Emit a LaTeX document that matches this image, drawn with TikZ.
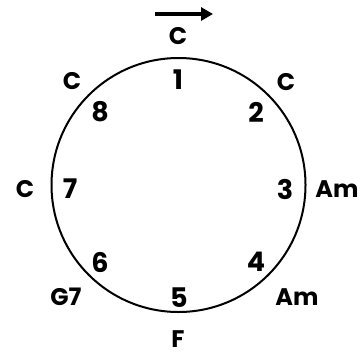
\documentclass[tikz,border=0pt]{standalone}
\usepackage{fontspec}
\setmainfont{Poppins}
\usetikzlibrary{arrows.meta}
\begin{document}
\begin{tikzpicture}[x=1pt,y=-1pt,
  chord/.style={font=\bfseries\fontsize{24}{24}\selectfont, inner sep=0pt},
  num/.style={font=\bfseries\fontsize{27}{27}\selectfont, inner sep=0pt}]
\useasboundingbox (0,0) rectangle (363,353);
\node[draw, circle, line width=2pt, minimum size=254pt, inner sep=0pt] (ring) at (178.5,185) {};
\coordinate (a1) at (155,14);
\coordinate (a2) at (213,14);
\draw[line width=3.5pt, -{Triangle[length=12pt,width=13pt]}] (a1) -- (a2);
\node[chord] (c1) at (178,36) {C};
\node[num] (n1) at (178,80) {1};
\node[chord] (c2) at (286,82) {C};
\node[num] (n2) at (256,112) {2};
\node[chord] (c3) at (337,189) {Am};
\node[num] (n3) at (285,189) {3};
\node[chord] (c4) at (297,297) {Am};
\node[num] (n4) at (256,262) {4};
\node[chord] (c5) at (178,339) {F};
\node[num] (n5) at (179,298) {5};
\node[chord] (c6) at (66,297) {G7};
\node[num] (n6) at (100,262) {6};
\node[chord] (c7) at (25,189) {C};
\node[num] (n7) at (70,189) {7};
\node[chord] (c8) at (72,81) {C};
\node[num] (n8) at (100,112) {8};
\end{tikzpicture}
\end{document}
